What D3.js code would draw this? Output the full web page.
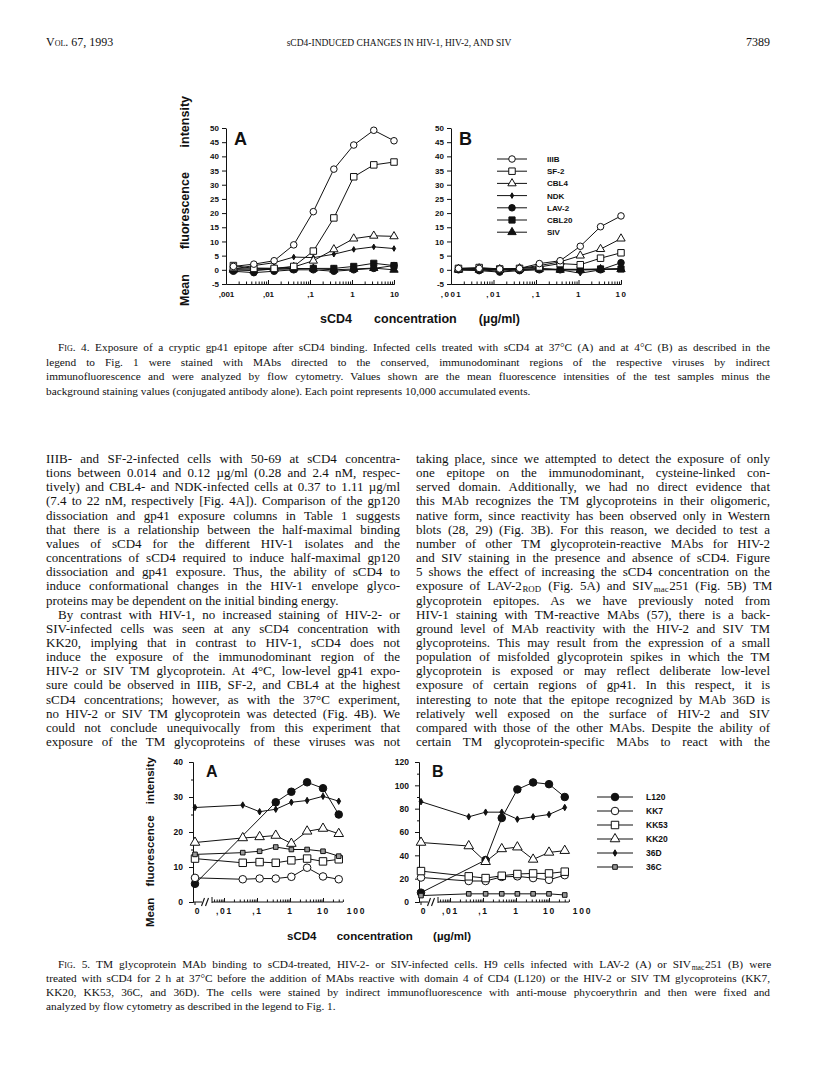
<!DOCTYPE html>
<html>
<head>
<meta charset="utf-8">
<script src="https://cdn.jsdelivr.net/npm/d3@7"></script>
<style>
  body { margin: 0; background: #fff; }
  text { fill: #111; }
  .sc { font-variant: small-caps; }
</style>
</head>
<body>
<script>
// ---- Fig. 4 data (sCD4 ug/ml vs mean fluorescence) ----
const conc4 = [0.0015, 0.0046, 0.014, 0.041, 0.12, 0.37, 1.1, 3.3, 10];
const strains4 = ["IIIB", "SF-2", "CBL4", "NDK", "LAV-2", "CBL20", "SIV"];
const marks4 = ["oc", "os", "ot", "sd", "fc", "fs", "ft"];
// panel A, 37C
const iiibA = [1.2, 2.0, 3.2, 8.8, 20.5, 35.5, 44, 49.2, 45.5];
const sf2A = [1.5, 0.5, 0.5, 1.2, 6.6, 18.3, 32.8, 37, 38];
const cbl4A = [0.5, 0.6, 0.5, 1.0, 3.2, 7.2, 11, 12, 11.8];
const ndkA = [0.3, 1.5, 2.5, 4.5, 4.3, 5.5, 7.2, 8.1, 7.5];
const lav2A = [-0.5, -1, -0.5, 0, 0, -0.5, 0, 0.5, 1.5];
const cbl20A = [0, 0, 0.2, 0.3, 0.5, 0.5, 1.2, 2.3, 1.5];
const sivA = [0, -0.3, 0.3, 0.5, 0.4, 0, 0.3, 0.6, 0];
// panel B, 4C
const iiibB = [0.5, 0.5, 0.3, 0.5, 2.2, 3.2, 8.3, 15.2, 19];
const sf2B = [0.5, 0.8, 0.3, 0.5, 1.0, 2.2, 1.8, 4.1, 6.0];
const cbl4B = [0.3, 0.5, 0.2, 0.5, 1.5, 2.8, 5.0, 7.3, 11];
const ndkB = [0, 0, -0.5, 0, 0.5, 0, -1.2, 0, 0.5];
const lav2B = [0, -0.3, -0.8, -0.3, 0, 0, 0, 0, 2.5];
const cbl20B = [0.2, 0.2, 0, 0.2, 0.3, 0.2, 0.2, 0.3, 0.3];
const sivB = [0, 0, 0, 0.2, 0.3, 0, 0, 0.2, 0.2];
const ticks4x = [0.001, 0.01, 0.1, 1, 10];
const ticks4y = d3.range(-5, 51, 5);

// ---- Fig. 5 data (null = not plotted) ----
const conc5 = [0, 0.037, 0.12, 0.37, 1.1, 3.3, 10, 30];
const mabs5 = ["L120", "KK7", "KK53", "KK20", "36D", "36C"];
const marks5 = ["fc", "oc", "os", "ot", "sd", "gs"];
const l120A = [5.2, null, null, 28.5, 31.5, 34.2, 32.5, 25];
const kk7A = [6.9, 6.5, 6.7, 6.7, 7.2, 9.8, 7.3, 6.5];
const kk53A = [12.4, 11.2, 11.4, 11.2, 11.9, 12.4, 11.6, 12.2];
const kk20A = [17, 18.3, 18.6, 19, 16.7, 20.2, 21, 19.5];
const d36A = [27, 27.7, 25.8, 26.5, 28.5, 29, 30.2, 28.8];
const c36A = [13.6, 14.1, 14.5, 15.7, 15, 15, 14.5, 13.1];
const l120B = [8, null, 36, 72, 96.5, 102.5, 101, 90];
const kk7B = [21, 18, 18, 21.5, 22, 20.5, 19, 23];
const kk53B = [26.5, 22, 20.5, 22.5, 24, 24.5, 24.5, 26];
const kk20B = [51, 48, 34.5, 45.5, 47, 36.5, 42.5, 44];
const d36B = [86, 73, 77, 77, 71, 73, 75, 81];
const c36B = [5.5, 7, 7, 7, 7, 7, 7, 6];
const ticks5x = [0.01, 0.1, 1, 10, 100];
const ticks5yA = [0, 10, 20, 30, 40];
const ticks5yB = [0, 20, 40, 60, 80, 100, 120];

// ---- page text ----
const leftCol = [
  "IIIB- and SF-2-infected cells with 50-69 at sCD4 concentra-",
  "tions between 0.014 and 0.12 µg/ml (0.28 and 2.4 nM, respec-",
  "tively) and CBL4- and NDK-infected cells at 0.37 to 1.11 µg/ml",
  "(7.4 to 22 nM, respectively [Fig. 4A]). Comparison of the gp120",
  "dissociation and gp41 exposure columns in Table 1 suggests",
  "that there is a relationship between the half-maximal binding",
  "values of sCD4 for the different HIV-1 isolates and the",
  "concentrations of sCD4 required to induce half-maximal gp120",
  "dissociation and gp41 exposure. Thus, the ability of sCD4 to",
  "induce conformational changes in the HIV-1 envelope glyco-",
  "!proteins may be dependent on the initial binding energy.",
  ">By contrast with HIV-1, no increased staining of HIV-2- or",
  "SIV-infected cells was seen at any sCD4 concentration with",
  "KK20, implying that in contrast to HIV-1, sCD4 does not",
  "induce the exposure of the immunodominant region of the",
  "HIV-2 or SIV TM glycoprotein. At 4°C, low-level gp41 expo-",
  "sure could be observed in IIIB, SF-2, and CBL4 at the highest",
  "sCD4 concentrations; however, as with the 37°C experiment,",
  "no HIV-2 or SIV TM glycoprotein was detected (Fig. 4B). We",
  "could not conclude unequivocally from this experiment that",
  "exposure of the TM glycoproteins of these viruses was not"
];
const rightCol = [
  "taking place, since we attempted to detect the exposure of only",
  "one epitope on the immunodominant, cysteine-linked con-",
  "served domain. Additionally, we had no direct evidence that",
  "this MAb recognizes the TM glycoproteins in their oligomeric,",
  "native form, since reactivity has been observed only in Western",
  "blots (28, 29) (Fig. 3B). For this reason, we decided to test a",
  "number of other TM glycoprotein-reactive MAbs for HIV-2",
  "and SIV staining in the presence and absence of sCD4. Figure",
  "5 shows the effect of increasing the sCD4 concentration on the",
  "exposure of LAV-2_{ROD} (Fig. 5A) and SIV_{mac}251 (Fig. 5B) TM",
  "glycoprotein epitopes. As we have previously noted from",
  "HIV-1 staining with TM-reactive MAbs (57), there is a back-",
  "ground level of MAb reactivity with the HIV-2 and SIV TM",
  "glycoproteins. This may result from the expression of a small",
  "population of misfolded glycoprotein spikes in which the TM",
  "glycoprotein is exposed or may reflect deliberate low-level",
  "exposure of certain regions of gp41. In this respect, it is",
  "interesting to note that the epitope recognized by MAb 36D is",
  "relatively well exposed on the surface of HIV-2 and SIV",
  "compared with those of the other MAbs. Despite the ability of",
  "certain TM glycoprotein-specific MAbs to react with the"
];
const cap4 = [
  ">~{Fig.} 4. Exposure of a cryptic gp41 epitope after sCD4 binding. Infected cells treated with sCD4 at 37°C (A) and at 4°C (B) as described in the",
  "legend to Fig. 1 were stained with MAbs directed to the conserved, immunodominant regions of the respective viruses by indirect",
  "immunofluorescence and were analyzed by flow cytometry. Values shown are the mean fluorescence intensities of the test samples minus the",
  "!background staining values (conjugated antibody alone). Each point represents 10,000 accumulated events."
];
const cap5 = [
  ">~{Fig.} 5. TM glycoprotein MAb binding to sCD4-treated, HIV-2- or SIV-infected cells. H9 cells infected with LAV-2 (A) or SIV_{mac}251 (B) were",
  "treated with sCD4 for 2 h at 37°C before the addition of MAbs reactive with domain 4 of CD4 (L120) or the HIV-2 or SIV TM glycoproteins (KK7,",
  "KK20, KK53, 36C, and 36D). The cells were stained by indirect immunofluorescence with anti-mouse phycoerythrin and then were fixed and",
  "!analyzed by flow cytometry as described in the legend to Fig. 1."
];

const SERIF = "'Liberation Serif', 'Times New Roman', serif";
const SANS = "'Liberation Sans', Arial, Helvetica, sans-serif";

const svg = d3.select("body").append("svg")
  .attr("width", 816).attr("height", 1076);

// stretch the word gaps of a text element to a given width
function spreadWords(t, width) {
  const natural = t.node().getComputedTextLength();
  const gaps = (t.text().match(/ /g) || []).length;
  if (!gaps) return;
  if (natural > width) {
    t.attr("textLength", width).attr("lengthAdjust", "spacingAndGlyphs");
  } else {
    t.attr("word-spacing", (width - natural) / gaps);
  }
}

// one line of running text; _{..} = subscript, ~{..} = small caps
function textLine(parent, x, y, str, size, width) {
  let justify = true, indent = 0;
  if (str[0] === "!") { justify = false; str = str.slice(1); }
  if (str[0] === ">") { indent = 12; str = str.slice(1); }
  const t = parent.append("text")
    .attr("x", x + indent).attr("y", y)
    .attr("font-family", SERIF).attr("font-size", size);
  let pending = 0;
  str.split(/(_\{[^}]*\}|~\{[^}]*\})/).forEach(p => {
    if (!p) return;
    if (p.startsWith("_{")) {
      t.append("tspan").attr("dy", 1.8).attr("dx", 0.6)
        .attr("font-size", size * 0.68).text(p.slice(2, -1));
      pending = -1.8;
    } else {
      const sp = t.append("tspan").text(p.startsWith("~{") ? p.slice(2, -1) : p);
      if (p.startsWith("~{")) sp.attr("class", "sc");
      if (pending) { sp.attr("dy", pending).attr("dx", 0.6); pending = 0; }
    }
  });
  if (justify) spreadWords(t, width - indent);
  return t;
}

// ---- running head ----
svg.append("text").attr("x", 46).attr("y", 46).attr("font-family", SERIF)
  .attr("font-size", 12).attr("class", "sc").text("Vol. 67, 1993");
svg.append("text").attr("x", 399).attr("y", 46).attr("text-anchor", "middle")
  .attr("font-family", SERIF).attr("font-size", 9.5)
  .text("sCD4-INDUCED CHANGES IN HIV-1, HIV-2, AND SIV");
svg.append("text").attr("x", 770).attr("y", 46).attr("text-anchor", "end")
  .attr("font-family", SERIF).attr("font-size", 12).text("7389");

// ---- markers ----
function marker(g, type, x, y, k) {
  const shapes = {
    oc: [d3.symbolCircle, 34, "#fff"], os: [d3.symbolSquare, 42, "#fff"],
    ot: [d3.symbolTriangle, 30, "#fff"], sd: [d3.symbolDiamond, 9, "#111"],
    fc: [d3.symbolCircle, 34, "#111"], fs: [d3.symbolSquare, 38, "#111"],
    ft: [d3.symbolTriangle, 30, "#111"], gs: [d3.symbolSquare, 16, "#999"]
  };
  const [sym, size, fill] = shapes[type];
  g.append("path")
    .attr("d", d3.symbol(sym, size * k * k)())
    .attr("transform", `translate(${x},${y})`)
    .attr("fill", fill).attr("stroke", "#111").attr("stroke-width", 1);
}

function drawSeries(g, xs, series, xPos, y, k, topFirst) {
  const line = d3.line().x(d => xPos(d.x)).y(d => y(d.v));
  const pts = s => s.values.map((v, i) => ({ x: xs[i], v })).filter(d => d.v !== null);
  series.forEach(s => g.append("path").attr("d", line(pts(s)))
    .attr("fill", "none").attr("stroke", "#111").attr("stroke-width", 1));
  const order = topFirst ? series.slice().reverse() : series;
  order.forEach(s => pts(s).forEach(d => marker(g, s.mark, xPos(d.x), y(d.v), k)));
}

const fmtLog = v => v >= 1 ? String(v) : "," + String(v).slice(2);

function styleAxis(sel, size) {
  sel.selectAll("path.domain").attr("stroke", "#111").attr("stroke-width", 1);
  sel.selectAll(".tick line").attr("stroke", "#111").attr("stroke-width", 1);
  sel.selectAll("text").attr("font-family", SANS).attr("font-weight", "bold")
    .attr("font-size", size).attr("fill", "#111");
}

function minorLog(lo, hi) {
  const out = [];
  for (let e = -4; e <= 2; e++) for (let m = 2; m <= 9; m++) {
    const v = m * Math.pow(10, e);
    if (v > lo && v < hi) out.push(v);
  }
  return out;
}

function axisTitle(x, y, rotate, str, size, width) {
  const t = svg.append("text")
    .attr("transform", `translate(${x},${y})` + (rotate ? " rotate(-90)" : ""))
    .attr("text-anchor", "middle").attr("font-family", SANS).attr("font-weight", "bold")
    .attr("font-size", size).text(str);
  spreadWords(t, width);
}

// ---- Fig. 4 ----
const y4 = d3.scaleLinear().domain([-5, 50]).range([284, 128]);
function fig4Panel(x0, x1, series, letter, spaced) {
  const g = svg.append("g");
  const x = d3.scaleLog().domain([0.001, 10]).range([x0, x1]);
  g.append("g").attr("transform", `translate(${x0},0)`)
    .call(d3.axisLeft(y4).tickValues(ticks4y).tickSize(4).tickSizeOuter(0).tickPadding(3)
      .tickFormat(d => String(d)))
    .call(s => styleAxis(s, 8));
  g.append("g").attr("transform", "translate(0,284)")
    .call(d3.axisBottom(x).tickValues(minorLog(0.001, 10)).tickSize(-2.5).tickSizeOuter(0).tickFormat(""))
    .call(s => styleAxis(s, 8));
  const xa = g.append("g").attr("transform", "translate(0,284)")
    .call(d3.axisBottom(x).tickValues(ticks4x).tickSize(-4).tickSizeOuter(0).tickPadding(7).tickFormat(fmtLog))
    .call(s => styleAxis(s, 8));
  if (spaced) xa.selectAll("text").attr("letter-spacing", 1.5);
  g.append("text").attr("x", x0 + 8).attr("y", 145).attr("font-family", SANS)
    .attr("font-weight", "bold").attr("font-size", 18).text(letter);
  drawSeries(g, conc4, series, x, y4, 1, true);
  return g;
}
const mk4 = vals => vals.map((v, i) => ({ name: strains4[i], mark: marks4[i], values: v }));
fig4Panel(226, 394, mk4([iiibA, sf2A, cbl4A, ndkA, lav2A, cbl20A, sivA]), "A", false);
const g4b = fig4Panel(451, 621, mk4([iiibB, sf2B, cbl4B, ndkB, lav2B, cbl20B, sivB]), "B", true);

// legend in panel B
strains4.forEach((name, i) => {
  const ly = 159 + i * 12.2;
  g4b.append("line").attr("x1", 497).attr("x2", 527).attr("y1", ly).attr("y2", ly)
    .attr("stroke", "#111").attr("stroke-width", 1);
  marker(g4b, marks4[i], 512, ly, 1);
  g4b.append("text").attr("x", 547).attr("y", ly + 3).attr("font-family", SANS)
    .attr("font-weight", "bold").attr("font-size", 8).text(name);
});

axisTitle(189, 201, true, "Mean fluorescence intensity", 12.5, 210);
axisTitle(420, 323, false, "sCD4 concentration (µg/ml)", 12.5, 200);

cap4.forEach((s, i) => textLine(svg, 46, 351 + i * 14.6, s, 11.3, 724));

// ---- body text ----
leftCol.forEach((s, i) => textLine(svg, 46, 463 + i * 14.15, s, 13, 354));
rightCol.forEach((s, i) => textLine(svg, 416, 463 + i * 14.15, s, 13, 354));

// ---- Fig. 5 ----
function fig5Panel(ox, yMax, yTicks, series, letter) {
  const g = svg.append("g");
  const y = d3.scaleLinear().domain([0, yMax]).range([902, 762]);
  const xLog = d3.scaleLog().domain([0.01, 100]).range([ox + 31, ox + 163]);
  const xPos = v => v === 0 ? ox + 2 : xLog(v);
  const step = yTicks[1] - yTicks[0];
  g.append("g").attr("transform", `translate(${ox},0)`)
    .call(d3.axisLeft(y).tickValues(yTicks.slice(0, -1).map(t => t + step / 2)).tickSize(2).tickSizeOuter(0).tickFormat(""))
    .call(s => styleAxis(s, 8));
  g.append("g").attr("transform", `translate(${ox},0)`)
    .call(d3.axisLeft(y).tickValues(yTicks).tickSize(4).tickSizeOuter(0).tickPadding(6))
    .call(s => styleAxis(s, 8.5));
  // x axis: zero point, break, then log part
  const axisY = 902, logStart = ox + 19, logEnd = ox + 150;
  g.append("line").attr("x1", ox).attr("x2", ox + 9).attr("y1", axisY).attr("y2", axisY)
    .attr("stroke", "#111");
  g.append("line").attr("x1", xPos(0)).attr("x2", xPos(0)).attr("y1", axisY).attr("y2", axisY + 3)
    .attr("stroke", "#111");
  [ox + 10, ox + 14].forEach(sx => g.append("line")
    .attr("x1", sx - 1.5).attr("x2", sx + 1.5).attr("y1", axisY + 4).attr("y2", axisY - 4)
    .attr("stroke", "#111").attr("stroke-width", 1.1));
  g.append("line").attr("x1", logStart).attr("x2", logEnd).attr("y1", axisY).attr("y2", axisY)
    .attr("stroke", "#111");
  g.append("line").attr("x1", logStart).attr("x2", logStart).attr("y1", axisY - 5).attr("y2", axisY + 1)
    .attr("stroke", "#111");
  const lo = xLog.invert(logStart), hi = xLog.invert(logEnd);
  const minor = g.append("g").attr("transform", `translate(0,${axisY})`)
    .call(d3.axisBottom(xLog).tickValues(minorLog(lo, hi)).tickSize(-2.5).tickFormat(""))
    .call(s => styleAxis(s, 8));
  minor.select("path.domain").remove();
  const xa = g.append("g").attr("transform", `translate(0,${axisY})`)
    .call(d3.axisBottom(xLog).tickValues(ticks5x).tickSize(-4).tickPadding(6).tickFormat(fmtLog))
    .call(s => styleAxis(s, 8.5));
  xa.select("path.domain").remove();
  xa.selectAll(".tick").filter(d => d > hi).select("line").remove();
  xa.selectAll("text").attr("letter-spacing", 1.8);
  g.append("text").attr("x", xPos(0) + 2).attr("y", axisY + 11.5).attr("text-anchor", "middle")
    .attr("font-family", SANS).attr("font-weight", "bold").attr("font-size", 8.5).text("0");
  g.append("text").attr("x", ox + 13).attr("y", 777).attr("font-family", SANS)
    .attr("font-weight", "bold").attr("font-size", 16).text(letter);
  drawSeries(g, conc5, series, xPos, y, 1.15, false);
  return g;
}
const mk5 = vals => vals.map((v, i) => ({ name: mabs5[i], mark: marks5[i], values: v }));
fig5Panel(193, 40, ticks5yA, mk5([l120A, kk7A, kk53A, kk20A, d36A, c36A]), "A");
const g5b = fig5Panel(419, 120, ticks5yB, mk5([l120B, kk7B, kk53B, kk20B, d36B, c36B]), "B");

mabs5.forEach((name, i) => {
  const ly = 797 + i * 14;
  g5b.append("line").attr("x1", 597).attr("x2", 633).attr("y1", ly).attr("y2", ly)
    .attr("stroke", "#111").attr("stroke-width", 1);
  marker(g5b, marks5[i], 615, ly, 1.15);
  g5b.append("text").attr("x", 646).attr("y", ly + 3).attr("font-family", SANS)
    .attr("font-weight", "bold").attr("font-size", 8.5).text(name);
});

axisTitle(154, 842, true, "Mean fluorescence intensity", 11.5, 170);
axisTitle(379, 940, false, "sCD4 concentration (µg/ml)", 11.5, 184);

cap5.forEach((s, i) => textLine(svg, 46, 968 + i * 14, s, 11.3, 724));
</script>
</body>
</html>
